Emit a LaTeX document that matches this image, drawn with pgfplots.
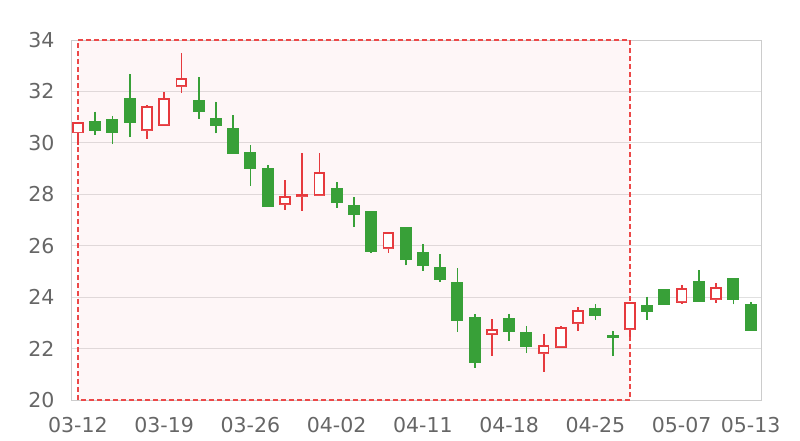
\documentclass[border=0pt]{standalone}
\usepackage{pgfplots}
\pgfplotsset{compat=1.18}
\usepgfplotslibrary{statistics}
\usepackage{fontspec}
\setmainfont{DejaVu Sans}
\definecolor{cred}{RGB}{230,58,62}
\definecolor{cgreen}{RGB}{56,160,56}
\definecolor{cmark}{RGB}{236,72,72}
\definecolor{cgrid}{RGB}{224,224,224}
\definecolor{caxis}{RGB}{204,204,204}
\definecolor{ctext}{RGB}{102,102,102}
% \up{pos}{low}{open}{close}{high}
\newcommand\up[5]{\addplot[cred, line width=1.8pt, fill=white,
  boxplot prepared={draw direction=y, draw position=#1, lower whisker=#2, lower quartile=#3,
  median=#3, upper quartile=#4, upper whisker=#5, box extend=0.56,
  whisker extend=0, every median/.style={draw=none},
  every whisker/.style={line width=1.8pt}}] coordinates {};}
% \dn{pos}{low}{close}{open}{high}
\newcommand\dn[5]{\addplot[cgreen, line width=1pt, fill=cgreen,
  boxplot prepared={draw direction=y, draw position=#1, lower whisker=#2, lower quartile=#3,
  median=#3, upper quartile=#4, upper whisker=#5, box extend=0.64,
  whisker extend=0, every median/.style={draw=none},
  every whisker/.style={line width=1.8pt}}] coordinates {};}
\begin{document}
\begin{tikzpicture}[x=1pt,y=1pt]
\path[use as bounding box] (0,0) rectangle (800,440);
\begin{axis}[
  at={(71pt,40pt)}, anchor=south west,
  scale only axis, width=690pt, height=360pt,
  xmin=-0.4, xmax=39.6, ymin=20, ymax=34,
  xtick={0,5,10,15,20,25,30,35,39},
  xticklabels={03-12,03-19,03-26,04-02,04-11,04-18,04-25,05-07,05-13},
  ytick={20,22,...,34},
  major tick length=0,
  ymajorgrids, grid style={cgrid, line width=1pt},
  axis line style={caxis, line width=1pt},
  ticklabel style={font=\fontsize{20.5}{21}\selectfont, text=ctext},
  /pgf/number format/assume math mode=true,
  yticklabel style={xshift=-13pt},
  xticklabel style={yshift=-14pt},
  clip=false,
]
\fill[cred, fill opacity=0.045] (axis cs:0,20) rectangle (axis cs:32,34);
\draw[cmark, line width=2.2pt, dash pattern=on 5pt off 3pt] (axis cs:0,20) rectangle (axis cs:32,34);
\up{0}{29.92}{30.40}{30.76}{30.80}
\dn{1}{30.31}{30.50}{30.85}{31.21}
\dn{2}{29.95}{30.41}{30.89}{31.05}
\dn{3}{30.22}{30.79}{31.73}{32.68}
\up{4}{30.14}{30.50}{31.38}{31.46}
\up{5}{30.70}{30.70}{31.72}{31.98}
\up{6}{31.93}{32.21}{32.47}{33.51}
\dn{7}{30.94}{31.21}{31.64}{32.57}
\dn{8}{30.37}{30.66}{30.94}{31.60}
\dn{9}{29.57}{29.57}{30.57}{31.07}
\dn{10}{28.34}{29.01}{29.63}{29.92}
\dn{11}{27.52}{27.52}{29.00}{29.14}
\up{12}{27.39}{27.62}{27.88}{28.56}
\up{13}{27.36}{27.92}{27.98}{29.59}
\up{14}{27.97}{27.97}{28.84}{29.59}
\dn{15}{27.48}{27.67}{28.22}{28.48}
\dn{16}{26.72}{27.21}{27.56}{27.88}
\dn{17}{25.71}{25.77}{27.32}{27.32}
\up{18}{25.71}{25.90}{26.51}{26.51}
\dn{19}{25.24}{25.48}{26.70}{26.70}
\dn{20}{25.03}{25.22}{25.73}{26.07}
\dn{21}{24.60}{24.67}{25.15}{25.67}
\dn{22}{22.66}{23.08}{24.56}{25.13}
\dn{23}{21.26}{21.47}{23.22}{23.33}
\up{24}{21.71}{22.57}{22.72}{23.14}
\dn{25}{22.31}{22.68}{23.16}{23.35}
\dn{26}{21.82}{22.10}{22.61}{22.88}
\up{27}{21.10}{21.82}{22.11}{22.56}
\up{28}{22.07}{22.07}{22.80}{22.89}
\up{29}{22.68}{22.98}{23.47}{23.61}
\dn{30}{23.11}{23.27}{23.54}{23.73}
\dn{31}{21.71}{22.45}{22.52}{22.70}
\up{32}{22.44}{22.75}{23.78}{23.78}
\dn{33}{23.11}{23.43}{23.66}{24.02}
\dn{34}{23.70}{23.70}{24.28}{24.28}
\up{35}{23.72}{23.82}{24.32}{24.46}
\dn{36}{23.85}{23.85}{24.60}{25.06}
\up{37}{23.78}{23.92}{24.37}{24.54}
\dn{38}{23.72}{23.89}{24.73}{24.73}
\dn{39}{22.70}{22.70}{23.73}{23.82}
\end{axis}
\end{tikzpicture}
\end{document}
